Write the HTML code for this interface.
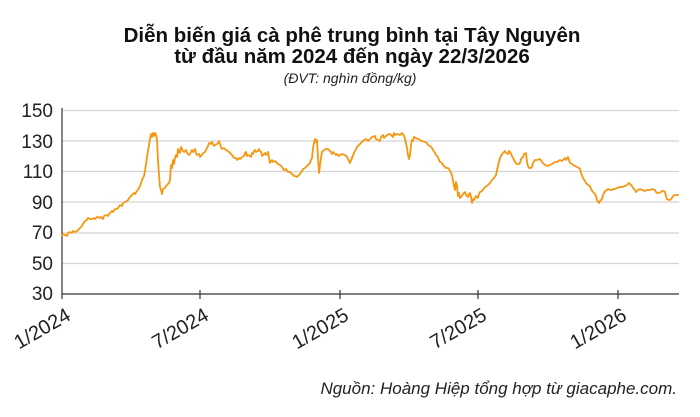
<!DOCTYPE html>
<html><head><meta charset="utf-8"><style>
body{margin:0;background:#fff;width:700px;height:412px;overflow:hidden}
</style></head><body>
<svg width="700" height="412" xmlns="http://www.w3.org/2000/svg" font-family="Liberation Sans, sans-serif">
<text x="352" y="42" text-anchor="middle" font-size="20.5" font-weight="bold" fill="#111">Diễn biến giá cà phê trung bình tại Tây Nguyên</text>
<text x="352" y="63" text-anchor="middle" font-size="20.5" font-weight="bold" fill="#111">từ đầu năm 2024 đến ngày 22/3/2026</text>
<text x="350" y="83" text-anchor="middle" font-size="14" font-style="italic" fill="#222">(ĐVT: nghìn đồng/kg)</text>
<g stroke="#d4d4d4" stroke-width="1.2">
<line x1="62" x2="679" y1="110.5" y2="110.5"/><line x1="62" x2="679" y1="141" y2="141"/>
<line x1="62" x2="679" y1="171.5" y2="171.5"/><line x1="62" x2="679" y1="202" y2="202"/>
<line x1="62" x2="679" y1="233" y2="233"/><line x1="62" x2="679" y1="263.5" y2="263.5"/>
</g>
<g stroke="#333" stroke-width="1.2">
<line x1="62" y1="108" x2="62" y2="299"/><line x1="62" y1="294" x2="679" y2="294"/>
<line x1="200" y1="290" x2="200" y2="299"/><line x1="340" y1="290" x2="340" y2="299"/>
<line x1="478" y1="290" x2="478" y2="299"/><line x1="618" y1="290" x2="618" y2="299"/>
</g>
<g font-size="19" fill="#222" text-anchor="end">
<text x="53" y="117">150</text><text x="53" y="148">130</text><text x="53" y="178">110</text>
<text x="53" y="209">90</text><text x="53" y="239">70</text><text x="53" y="270">50</text><text x="53" y="300">30</text>
</g>
<g font-size="20" fill="#222" text-anchor="end">
<text transform="translate(72,319) rotate(-30)">1/2024</text>
<text transform="translate(210,319) rotate(-30)">7/2024</text>
<text transform="translate(350,319) rotate(-30)">1/2025</text>
<text transform="translate(488,319) rotate(-30)">7/2025</text>
<text transform="translate(628,319) rotate(-30)">1/2026</text>
</g>
<polyline fill="none" stroke="#f7960f" stroke-width="1.8" stroke-linejoin="round" points="62,236 63,234 65,235 67,236 68,233 70,232 72,233 73,231 75,232 77,231 79,229 80,228 82,226 83,224 85,221 87,220 88,218 90,219 92,219 94,218 95,219 97,217 98,217 100,218 101,217 103,219 104,216 106,215 108,216 109,214 110,213 112,211 113,212 115,209 117,209 118,208 120,205 122,206 123,203 125,202 127,201 128,200 130,197 132,195 134,193 135,194 137,191 139,188 140,186 142,180 144,176 145,171 147,157 148,151 149,145 150,139 151,134 152,137 153,133 154,136 155,133 156,135 157,140 158,160 159,175 160,187 161,190 162,194 163,189 165,188 166,186 168,184 169,183 170,180 171,165 172,168 173,160 174,164 175,158 176,155 177,157 178,149 179,152 180,153 181,147 183,151 184,152 186,150 187,153 189,155 190,154 192,150 193,152 195,149 196,153 197,155 199,154 200,157 202,155 203,153 205,152 206,150 208,146 209,143 211,144 212,142 214,146 215,145 217,144 218,143 219,141 221,147 222,149 224,148 226,150 228,151 230,153 232,155 234,158 236,158 237,160 239,158 240,159 242,157 244,156 245,153 246,152 247,156 248,155 250,156 251,157 252,153 253,154 254,151 255,150 256,152 258,151 259,149 260,151 261,152 262,156 264,154 265,153 266,155 268,152 269,158 270,163 272,160 273,162 275,161 276,162 278,164 280,165 282,167 284,170 286,169 288,172 290,172 292,174 294,176 295,176 297,177 299,175 300,174 302,171 303,169 305,168 307,166 309,164 310,163 311,160 312,158 313,148 314,143 315,139 316,142 317,140 318,158 319,173 320,165 321,158 322,152 324,150 326,149 328,149 330,151 331,152 332,154 333,152 334,153 336,155 337,154 339,156 340,155 342,154 345,155 347,157 348,159 350,163 352,158 354,153 356,149 357,147 359,145 362,142 364,140 366,139 368,141 370,139 372,137 375,136 376,139 378,140 380,141 381,137 383,135 384,138 385,137 387,135 390,134 392,136 393,137 394,133 395,135 397,134 400,135 402,133 404,136 405,139 407,148 408,155 409,159 410,155 411,145 412,140 413,141 414,137 416,138 418,139 420,140 422,141 425,142 427,143 428,145 430,146 432,148 433,150 435,153 436,155 438,157 439,160 440,162 442,163 443,165 445,167 446,168 448,168 449,169 450,171 452,175 454,186 455,190 456,182 457,186 458,196 459,193 460,198 462,196 463,194 465,192 466,195 468,197 469,194 470,193 471,197 472,203 473,199 474,200 476,196 477,197 478,198 479,194 480,192 482,191 485,187 487,186 490,183 492,180 494,178 496,175 497,170 498,166 499,162 500,158 501,156 503,153 505,151 506,153 508,154 509,151 510,152 511,154 513,158 514,160 515,162 517,164 519,164 520,163 521,159 523,157 524,154 526,153 527,162 528,166 529,168 531,168 532,167 533,163 535,160 537,160 540,159 542,162 545,165 547,166 550,165 552,164 555,162 557,162 560,160 562,161 565,158 566,160 568,157 569,160 570,163 572,164 573,165 575,166 577,167 579,168 580,169 581,173 583,178 585,181 586,183 588,185 590,186 591,189 593,192 595,194 596,196 597,200 598,202 599,203 600,201 601,200 602,199 603,195 605,191 607,190 608,189 610,190 612,190 613,189 615,189 617,188 620,187 622,187 625,186 627,185 629,183 630,184 632,186 633,188 635,190 636,192 638,190 640,189 642,190 645,191 647,190 650,190 652,189 655,190 656,192 657,193 659,193 661,192 662,191 664,191 665,192 666,196 667,199 669,200 670,200 672,198 673,196 675,195 676,195 678,195 679,195"/>
<text x="677" y="394" text-anchor="end" font-size="17" font-style="italic" fill="#222">Nguồn: Hoàng Hiệp tổng hợp từ giacaphe.com.</text>
</svg>
</body></html>
